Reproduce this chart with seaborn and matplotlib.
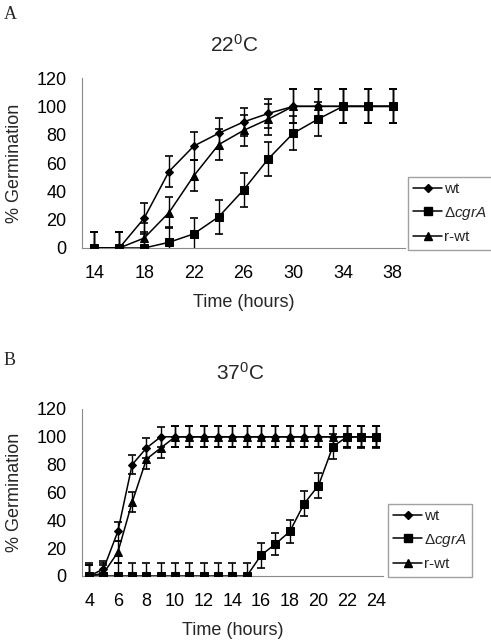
import matplotlib
matplotlib.use("Agg")
import matplotlib.pyplot as plt
import seaborn as sns
from matplotlib.lines import Line2D


# Panel A: 22 C
hours_a = [14, 16, 18, 20, 22, 24, 26, 28, 30, 32, 34, 36, 38]
wt_a = [0, 0, 21, 54, 72, 81, 89, 95, 100, 100, 100, 100, 100]
cgra_a = [0, 0, 0, 4, 10, 22, 41, 63, 81, 91, 100, 100, 100]
rwt_a = [0, 0, 7, 25, 51, 73, 83, 91, 100, 100, 100, 100, 100]

wt_a_up = [11, 11, 11, 11, 10, 11, 10, 10, 12, 12, 12, 12, 12]
wt_a_lo = [0, 0, 11, 11, 10, 11, 10, 10, 12, 12, 12, 12, 12]
cgra_a_up = [11, 11, 11, 11, 11, 12, 12, 12, 12, 12, 12, 12, 12]
cgra_a_lo = [0, 0, 0, 11, 17, 12, 12, 12, 12, 12, 12, 12, 12]
rwt_a_up = [11, 11, 11, 11, 11, 11, 11, 11, 12, 12, 12, 12, 12]
rwt_a_lo = [0, 0, 7, 11, 11, 11, 11, 11, 12, 12, 12, 12, 12]

# Panel B: 37 C
hours_b = [4, 5, 6, 7, 8, 9, 10, 11, 12, 13, 14, 15, 16, 17, 18, 19, 20,
           21, 22, 23, 24]
wt_b = [0, 5, 32, 80, 92, 100, 100, 100, 100, 100, 100, 100, 100, 100,
        100, 100, 100, 100, 100, 100, 100]
cgra_b = [0, 0, 0, 0, 0, 0, 0, 0, 0, 0, 0, 0, 15, 23, 32, 52, 65, 93,
          100, 100, 100]
rwt_b = [0, 2, 17, 53, 84, 92, 100, 100, 100, 100, 100, 100, 100, 100,
         100, 100, 100, 100, 100, 100, 100]

wt_b_up = [8, 6, 7, 7, 7, 7, 7.5, 7.5, 7.5, 7.5, 7.5, 7.5, 7.5, 7.5, 7.5,
           7.5, 7.5, 7.5, 7.5, 7.5, 7.5]
wt_b_lo = [0, 5, 7, 7, 7, 7, 7.5, 7.5, 7.5, 7.5, 7.5, 7.5, 7.5, 7.5, 7.5,
           7.5, 7.5, 7.5, 7.5, 7.5, 7.5]
cgra_b_up = [9, 9, 9, 9, 9, 9, 9, 9, 9, 9, 9, 9, 9, 8, 8, 9, 9, 9, 8, 8, 8]
cgra_b_lo = [0, 0, 0, 0, 0, 0, 0, 0, 0, 0, 0, 0, 9, 8, 8, 9, 9, 9, 8, 8, 8]
rwt_b_up = [8, 6, 8, 7, 7, 7, 7.5, 7.5, 7.5, 7.5, 7.5, 7.5, 7.5, 7.5, 7.5,
            7.5, 7.5, 7.5, 7.5, 7.5, 7.5]
rwt_b_lo = [0, 2, 8, 7, 7, 7, 7.5, 7.5, 7.5, 7.5, 7.5, 7.5, 7.5, 7.5, 7.5,
            7.5, 7.5, 7.5, 7.5, 7.5, 7.5]

SERIES_LABELS = ["wt", r"$\mathit{\Delta cgrA}$", "r-wt"]
MARKERS = ["D", "s", "^"]
MARKER_SIZES = [4.5, 6, 6]

sns.set_style("white")
plt.rcParams["font.family"] = ["Liberation Sans", "DejaVu Sans"]
plt.rcParams["mathtext.fontset"] = "custom"
plt.rcParams["mathtext.rm"] = "Liberation Sans"
plt.rcParams["mathtext.it"] = "Liberation Sans:italic"
plt.rcParams["mathtext.default"] = "regular"

AXIS_GREY = "#8a8a8a"


def draw_panel(ax, hours, series, errs, xlim, xticks, minor_ticks):
    # series drawn in order wt, r-wt, cgrA so the squares sit on top
    for idx in [0, 2, 1]:
        y = series[idx]
        lo, up = errs[idx]
        ax.errorbar(hours, y, yerr=[lo, up], fmt="none", ecolor="black",
                    elinewidth=1.0, capsize=3.2, capthick=1.2,
                    zorder=2 + idx)
        sns.lineplot(x=hours, y=y, ax=ax, color="black", linewidth=1.1,
                     marker=MARKERS[idx], markersize=MARKER_SIZES[idx],
                     markeredgecolor="black", markerfacecolor="black",
                     zorder=3 + idx)

    ax.set_xlim(*xlim)
    ax.set_ylim(0, 120)
    ax.set_yticks([0, 20, 40, 60, 80, 100, 120])
    ax.set_xticks(xticks)
    ax.set_xticks(minor_ticks, minor=True)
    ax.tick_params(axis="x", which="major", labelsize=13,
                   length=0, pad=12, colors="black")
    ax.tick_params(axis="y", which="major", labelsize=13, length=3,
                   color=AXIS_GREY, labelcolor="black", direction="out",
                   pad=8)
    ax.tick_params(axis="x", which="minor", length=4, color=AXIS_GREY,
                   direction="out")
    for side in ["top", "right"]:
        ax.spines[side].set_visible(False)
    for side in ["left", "bottom"]:
        ax.spines[side].set_color(AXIS_GREY)
        ax.spines[side].set_linewidth(0.8)

    ax.set_xlabel("Time (hours)", fontsize=13, labelpad=9)
    ax.set_ylabel("% Germination", fontsize=13, labelpad=10)


def add_legend(fig, box):
    handles = [
        Line2D([0], [0], color="black", linewidth=1.1, marker=m,
               markersize=s * 0.85)
        for m, s in zip(MARKERS, MARKER_SIZES)
    ]
    fig.legend(handles, SERIES_LABELS, loc="upper left",
               bbox_to_anchor=box, fontsize=11, frameon=True,
               fancybox=False, edgecolor=AXIS_GREY, handlelength=1.9,
               handletextpad=0.1, borderpad=0.35, labelspacing=0.55,
               borderaxespad=0)


def main():

    fig = plt.figure(figsize=(4.91, 6.40), dpi=100)

    ax_a = fig.add_axes([0.167, 0.6125, 0.658, 0.2656])
    draw_panel(
        ax_a, hours_a, [wt_a, cgra_a, rwt_a],
        [(wt_a_lo, wt_a_up), (cgra_a_lo, cgra_a_up), (rwt_a_lo, rwt_a_up)],
        (13, 39), [14, 18, 22, 26, 30, 34, 38],
        [13, 15, 17, 19, 21, 23, 25, 27, 29, 31, 33, 35, 37, 39]
    )

    ax_b = fig.add_axes([0.167, 0.100, 0.613, 0.261])
    draw_panel(
        ax_b, hours_b, [wt_b, cgra_b, rwt_b],
        [(wt_b_lo, wt_b_up), (cgra_b_lo, cgra_b_up), (rwt_b_lo, rwt_b_up)],
        (3.5, 24.5), [4, 6, 8, 10, 12, 14, 16, 18, 20, 22, 24],
        [3.5 + i for i in range(22)]
    )

    fig.text(0.477, 0.930, "22$^{0}$C", fontsize=15, ha="center",
             va="center")
    fig.text(0.489, 0.417, "37$^{0}$C", fontsize=15, ha="center",
             va="center")

    fig.text(0.008, 0.990, "A", fontsize=13, ha="left", va="top",
             family=["Liberation Serif", "DejaVu Serif"])
    fig.text(0.008, 0.450, "B", fontsize=13, ha="left", va="top",
             family=["Liberation Serif", "DejaVu Serif"])

    add_legend(fig, (0.831, 1 - 177 / 640))
    add_legend(fig, (0.790, 1 - 504 / 640))

    fig.savefig("out.png", dpi=100, facecolor="white")


if __name__ == "__main__":
    main()
